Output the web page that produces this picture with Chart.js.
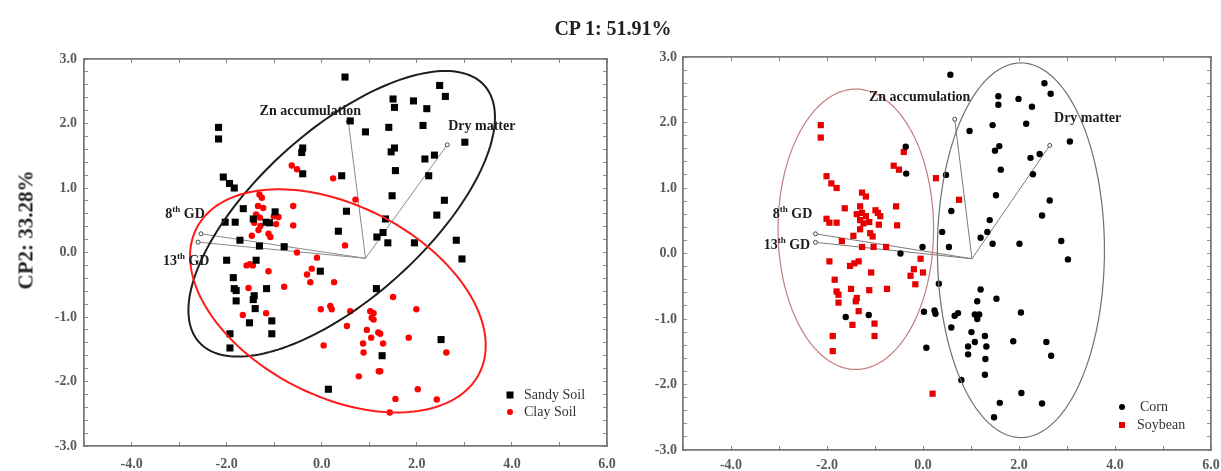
<!DOCTYPE html>
<html>
<head>
<meta charset="utf-8">
<script src="https://cdn.jsdelivr.net/npm/chart.js@4/dist/chart.umd.min.js"></script>
<style>
  body { margin: 0; background: #fff; }
  #wrap { position: relative; width: 1221px; height: 471px; overflow: hidden; }
  canvas { position: absolute; top: 0; }
  #leftChart { left: 0; }
  #rightChart { left: 620px; }
  .lbl { position: absolute; font-family: "Liberation Serif", serif; font-weight: bold; color: #222; white-space: nowrap; }
  #title { left: 613px; top: 28px; font-size: 20px; transform: translate(-50%, -50%); }
  #ylab { left: 26px; top: 230px; font-size: 21px; transform: translate(-50%, -50%) rotate(-90deg); }
</style>
</head>
<body>
<div id="wrap">
  <canvas id="leftChart" width="620" height="471"></canvas>
  <canvas id="rightChart" width="601" height="471"></canvas>
  <div class="lbl" id="title">CP 1: 51.91%</div>
  <div class="lbl" id="ylab">CP2: 33.28%</div>
</div>
<script>
// ---- tick labels
const xTickLabels = ['-4.0', '-2.0', '0.0', '2.0', '4.0', '6.0'];
const yTickLabels = ['-3.0', '-2.0', '-1.0', '0.0', '1.0', '2.0', '3.0'];

// ---- left panel: soil type (x = CP1, y = CP2)
const sandySoil = [
  [0.49,2.72],[0.60,2.04],[0.92,1.87],[-2.17,1.94],[-2.17,1.76],[-0.40,1.62],[-0.42,1.55],[-0.40,1.22],
  [0.42,1.19],[-2.07,1.17],[-1.94,1.07],[-1.84,1.00],[-1.65,0.68],[0.52,0.64],[-0.98,0.63],[-2.03,0.47],
  [-1.82,0.47],[-1.44,0.52],[-1.17,0.47],[-1.10,0.46],[0.35,0.33],[1.16,0.24],[-1.72,0.19],[-1.31,0.10],
  [-0.79,0.09],[-2.00,-0.12],[-1.38,-0.12],[-0.03,-0.29],[-1.86,-0.39],[-1.84,-0.56],[-1.80,-0.59],[-1.80,-0.75],
  [-1.42,-0.67],[-1.44,-0.73],[-1.16,-0.56],[-1.40,-0.87],[-1.52,-1.09],[-1.05,-1.06],[-1.05,-1.26],[-1.93,-1.26],
  [-1.93,-1.48],[0.14,-2.12],[1.15,-0.56],[1.27,-1.60],[2.48,2.59],[2.60,2.42],[1.50,2.38],[1.53,2.25],
  [1.93,2.35],[2.21,2.23],[1.41,1.94],[2.13,1.97],[3.01,1.71],[1.46,1.56],[1.53,1.62],[2.17,1.45],
  [2.37,1.51],[1.55,1.27],[2.25,1.19],[1.48,0.88],[2.58,0.81],[2.42,0.58],[1.34,0.52],[1.29,0.31],
  [1.39,0.15],[1.95,0.15],[2.83,0.19],[2.95,-0.10],[2.51,-1.35]
];
const claySoil = [
  [-0.63,1.35],[-0.52,1.29],[0.24,1.15],[0.71,0.82],[-1.31,0.90],[-1.26,0.85],[-1.34,0.72],[-1.23,0.69],
  [-1.38,0.59],[-1.37,0.56],[-1.30,0.54],[-1.42,0.46],[-1.01,0.56],[-0.91,0.55],[-0.96,0.44],[-0.60,0.72],
  [-0.60,0.42],[-1.29,0.41],[-1.33,0.35],[-1.47,0.26],[-1.12,0.29],[-1.08,0.24],[0.49,0.11],[-0.52,0.00],
  [-0.10,-0.08],[-1.58,-0.20],[-1.51,-0.18],[-1.45,-0.20],[-1.12,-0.29],[-0.21,-0.25],[-0.31,-0.34],[-0.24,-0.46],
  [0.26,-0.46],[-1.54,-0.55],[-0.79,-0.53],[-0.02,-0.88],[0.18,-0.83],[0.21,-0.88],[-1.66,-0.97],[-1.17,-0.94],
  [0.60,-0.91],[1.02,-0.91],[1.09,-0.94],[1.05,-1.01],[1.09,-1.04],[0.53,-1.14],[0.95,-1.20],[1.04,-1.32],
  [0.87,-1.41],[0.88,-1.55],[0.04,-1.44],[1.20,-1.84],[0.78,-1.92],[1.19,-1.24],[1.50,-0.69],[1.99,-0.88],
  [1.23,-1.26],[1.29,-1.41],[1.83,-1.32],[2.62,-1.55],[1.23,-1.84],[2.02,-2.12],[1.55,-2.27],[2.42,-2.28],
  [1.43,-2.48]
];

// ---- right panel: crop
const corn = [
  [0.57,2.73],[-0.36,1.63],[-0.35,1.22],[0.48,1.20],[0.59,0.65],[0.40,0.33],[0.54,0.10],[-0.01,0.10],
  [-0.47,0.00],[0.33,-0.46],[0.02,-0.89],[0.24,-0.87],[0.26,-0.92],[-1.61,-0.97],[-1.13,-0.94],[0.66,-0.95],
  [0.73,-0.91],[0.59,-1.13],[0.07,-1.44],[0.80,-1.93],[2.53,2.60],[2.66,2.44],[1.57,2.40],[1.57,2.27],
  [1.99,2.36],[2.27,2.24],[1.45,1.96],[2.15,1.98],[0.97,1.87],[3.06,1.71],[1.59,1.64],[1.50,1.57],
  [2.24,1.46],[2.43,1.52],[1.62,1.28],[2.29,1.21],[1.52,0.89],[2.64,0.81],[2.48,0.58],[1.39,0.51],
  [1.34,0.33],[1.20,0.24],[1.45,0.15],[2.01,0.15],[2.88,0.19],[3.02,-0.09],[1.20,-0.55],[1.13,-0.73],
  [1.53,-0.69],[1.08,-0.93],[1.17,-0.93],[1.13,-1.00],[2.04,-0.90],[1.01,-1.20],[1.29,-1.26],[1.08,-1.35],
  [0.94,-1.42],[1.32,-1.42],[0.94,-1.54],[1.30,-1.61],[1.88,-1.34],[2.57,-1.35],[2.67,-1.56],[1.29,-1.85],
  [2.05,-2.13],[1.60,-2.28],[2.48,-2.29],[1.48,-2.50]
];
const soybean = [
  [-2.13,1.96],[-2.13,1.77],[-0.40,1.55],[-0.61,1.34],[-0.50,1.28],[0.27,1.15],[0.75,0.82],[-2.01,1.18],
  [-1.91,1.07],[-1.80,1.00],[-1.27,0.93],[-1.19,0.87],[-1.63,0.69],[-1.31,0.72],[-0.99,0.66],[-0.94,0.62],
  [-0.56,0.72],[-0.54,0.43],[-2.01,0.53],[-1.95,0.47],[-1.80,0.47],[-1.38,0.60],[-1.27,0.62],[-1.19,0.57],
  [-1.31,0.51],[-1.24,0.46],[-1.12,0.48],[-0.92,0.44],[-0.89,0.57],[-1.31,0.37],[-1.45,0.27],[-1.10,0.31],
  [-1.05,0.26],[-1.69,0.19],[-1.27,0.10],[-1.03,0.10],[-0.77,0.10],[-1.95,-0.12],[-1.34,-0.12],[-1.43,-0.15],
  [-1.52,-0.19],[-0.05,-0.08],[-0.19,-0.24],[-0.26,-0.34],[-0.16,-0.47],[0.00,-0.29],[-1.08,-0.29],[-1.84,-0.40],
  [-1.50,-0.54],[-1.80,-0.58],[-1.76,-0.63],[-1.12,-0.56],[-0.75,-0.54],[-1.76,-0.75],[-1.38,-0.68],[-1.40,-0.73],
  [-1.34,-0.88],[-1.47,-1.09],[-1.01,-1.07],[-1.01,-1.26],[-1.88,-1.26],[-1.88,-1.49],[0.20,-2.14]
];

// ---- biplot variable vectors [origin, tip]
const leftVectors = {
  zn:   [[0.92,-0.09],[0.56,2.03]],
  dry:  [[0.92,-0.09],[2.64,1.67]],
  gd8:  [[0.92,-0.09],[-2.54,0.29]],
  gd13: [[0.92,-0.09],[-2.60,0.16]]
};
const rightVectors = {
  zn:   [[1.02,-0.08],[0.66,2.05]],
  dry:  [[1.02,-0.08],[2.64,1.65]],
  gd8:  [[1.02,-0.08],[-2.24,0.30]],
  gd13: [[1.02,-0.08],[-2.24,0.17]]
};

// ---- confidence ellipses: centre + two conjugate semi-axes (data units)
const sandyEllipse   = { c: [0.42, 0.60],  u: [3.00, 1.99], v: [1.18, -0.97] };
const clayEllipse    = { c: [0.34, -0.75], u: [2.97, -1.13], v: [-0.92, -1.31] };
const soybeanEllipse = { c: [-1.40, 0.37], u: [1.62, 0], v: [0, 2.14] };
const cornEllipse    = { c: [2.04, 0.05],  u: [1.74, 0], v: [0, 2.86] };

// ---- variable labels
const leftNotes = [
  { parts: [['Zn accumulation']], at: [-0.24, 2.19], align: 'center' },
  { parts: [['Dry matter']], at: [2.66, 1.95], align: 'left' },
  { parts: [['8'], ['th', 1], [' GD']], at: [-3.29, 0.59], align: 'left' },
  { parts: [['13'], ['th', 1], [' GD']], at: [-3.34, -0.14], align: 'left' }
];
const rightNotes = [
  { parts: [['Zn accumulation']], at: [-0.07, 2.38], align: 'center' },
  { parts: [['Dry matter']], at: [2.73, 2.06], align: 'left' },
  { parts: [['8'], ['th', 1], [' GD']], at: [-3.13, 0.60], align: 'left' },
  { parts: [['13'], ['th', 1], [' GD']], at: [-3.32, 0.12], align: 'left' }
];

const SERIF = '"Liberation Serif", "Times New Roman", serif';

function tickList(min, max, step) {
  const out = [];
  for (let k = 0; min + k * step <= max + 1e-9; k++) out.push({ value: Math.round((min + k * step) * 100) / 100 });
  return out;
}
function fmt(labels) {
  return v => {
    const s = (Math.round(v * 10) / 10).toFixed(1);
    return labels.includes(s) ? s : '';
  };
}

function makeScales(lay) {
  // tick marks point inwards, like the original plot frame
  const grid = { drawOnChartArea: false, tickLength: -4, color: '#8c8c8c', lineWidth: 1 };
  const border = { color: '#7a7a7a', width: 1.8 };
  const font = { family: SERIF, size: 14, weight: 'bold' };
  const noPad = s => { s.paddingLeft = 0; s.paddingRight = 0; s.paddingTop = 0; s.paddingBottom = 0; };
  return {
    x: {
      type: 'linear', position: 'bottom', min: -5, max: 6,
      afterBuildTicks: s => { s.ticks = tickList(-5, 6, 1); },
      ticks: { autoSkip: false, maxRotation: 0, color: '#5a5a5a', font, padding: lay.xPad, callback: fmt(xTickLabels) },
      grid, border,
      afterFit: s => { s.height = lay.xH; noPad(s); }
    },
    xTop: {
      type: 'linear', position: 'top', min: -5, max: 6,
      afterBuildTicks: s => { s.ticks = tickList(-5, 6, 1); },
      ticks: { display: false, autoSkip: false },
      grid, border,
      afterFit: s => { s.height = 5; noPad(s); }
    },
    y: {
      type: 'linear', position: 'left', min: -3, max: 3,
      afterBuildTicks: s => { s.ticks = tickList(-3, 3, 0.2); },
      ticks: { autoSkip: false, color: '#5a5a5a', font, padding: lay.yPad, callback: fmt(yTickLabels) },
      grid, border,
      afterFit: s => { s.width = 50; noPad(s); }
    },
    yRight: {
      type: 'linear', position: 'right', min: -3, max: 3,
      afterBuildTicks: s => { s.ticks = tickList(-3, 3, 0.2); },
      ticks: { display: false, autoSkip: false },
      grid, border,
      afterFit: s => { s.width = 5; noPad(s); }
    }
  };
}

function pts(arr) { return arr.map(p => ({ x: p[0], y: p[1] })); }

function vectorSets(vecs, color) {
  return Object.values(vecs).map(v => ({
    data: pts(v), showLine: true, borderColor: color, borderWidth: 1,
    pointRadius: [0, 2], pointBackgroundColor: '#fff', pointBorderColor: '#444', pointBorderWidth: 1
  }));
}

function drawEllipse(chart, e, color, width) {
  const sx = chart.scales.x, sy = chart.scales.y, ctx = chart.ctx;
  ctx.save();
  ctx.beginPath();
  for (let i = 0; i <= 180; i++) {
    const t = i / 180 * Math.PI * 2;
    const px = sx.getPixelForValue(e.c[0] + e.u[0] * Math.cos(t) + e.v[0] * Math.sin(t));
    const py = sy.getPixelForValue(e.c[1] + e.u[1] * Math.cos(t) + e.v[1] * Math.sin(t));
    i ? ctx.lineTo(px, py) : ctx.moveTo(px, py);
  }
  ctx.closePath();
  ctx.strokeStyle = color;
  ctx.lineWidth = width;
  ctx.stroke();
  ctx.restore();
}

function drawNote(chart, note) {
  const ctx = chart.ctx;
  const px = chart.scales.x.getPixelForValue(note.at[0]);
  const py = chart.scales.y.getPixelForValue(note.at[1]);
  const big = 'bold 14px ' + SERIF, small = 'bold 9px ' + SERIF;
  ctx.save();
  let w = 0;
  note.parts.forEach(p => { ctx.font = p[1] ? small : big; w += ctx.measureText(p[0]).width; });
  let cx = note.align === 'center' ? px - w / 2 : px;
  ctx.textAlign = 'left';
  ctx.textBaseline = 'middle';
  ctx.fillStyle = '#1c1c1c';
  note.parts.forEach(p => {
    ctx.font = p[1] ? small : big;
    ctx.fillText(p[0], cx, p[1] ? py - 5 : py);
    cx += ctx.measureText(p[0]).width;
  });
  ctx.restore();
}

function drawLegend(chart, items, dx, dy) {
  const ctx = chart.ctx, a = chart.chartArea;
  ctx.save();
  ctx.font = '14px ' + SERIF;
  ctx.textBaseline = 'middle';
  ctx.textAlign = 'left';
  items.forEach((it, i) => {
    const mx = a.right - dx, my = a.bottom - dy + i * it.gap;
    ctx.fillStyle = it.color;
    ctx.beginPath();
    if (it.shape === 'rect') ctx.rect(mx - it.size / 2, my - it.size / 2, it.size, it.size);
    else ctx.arc(mx, my, it.size / 2, 0, Math.PI * 2);
    ctx.fill();
    ctx.fillStyle = '#333';
    ctx.fillText(it.text, mx + it.tx, my);
  });
  ctx.restore();
}

// ---------------- left chart
new Chart(document.getElementById('leftChart'), {
  type: 'scatter',
  data: {
    datasets: [
      { label: 'Sandy Soil', data: pts(sandySoil), pointStyle: 'rect', pointRadius: 5, backgroundColor: '#000', borderWidth: 0 },
      { label: 'Clay Soil', data: pts(claySoil), pointStyle: 'circle', pointRadius: 3.2, backgroundColor: '#ff0000', borderWidth: 0 },
      ...vectorSets(leftVectors, '#8a8a8a')
    ]
  },
  options: {
    responsive: false, animation: false,
    layout: { padding: { left: 34, right: 8, top: 54, bottom: 0 } },
    plugins: { legend: { display: false }, tooltip: { enabled: false } },
    scales: makeScales({ xH: 25, xPad: 14, yPad: 11 })
  },
  plugins: [{
    id: 'leftDecor',
    afterDatasetsDraw(chart) {
      drawEllipse(chart, sandyEllipse, '#1e1e1e', 2);
      drawEllipse(chart, clayEllipse, '#ff1a1a', 2);
      leftNotes.forEach(n => drawNote(chart, n));
      drawLegend(chart, [
        { text: 'Sandy Soil', color: '#000', shape: 'rect', size: 7, tx: 14, gap: 17 },
        { text: 'Clay Soil', color: '#ff0000', shape: 'circle', size: 6, tx: 14, gap: 17 }
      ], 97, 51);
    }
  }]
});

// ---------------- right chart
new Chart(document.getElementById('rightChart'), {
  type: 'scatter',
  data: {
    datasets: [
      { label: 'Corn', data: pts(corn), pointStyle: 'circle', pointRadius: 3.2, backgroundColor: '#000', borderWidth: 0 },
      { label: 'Soybean', data: pts(soybean), pointStyle: 'rect', pointRadius: 4.4, backgroundColor: '#e60000', borderWidth: 0 },
      ...vectorSets(rightVectors, '#7a7a7a')
    ]
  },
  options: {
    responsive: false, animation: false,
    layout: { padding: { left: 13, right: 5, top: 52, bottom: 0 } },
    plugins: { legend: { display: false }, tooltip: { enabled: false } },
    scales: makeScales({ xH: 21, xPad: 11, yPad: 10 })
  },
  plugins: [{
    id: 'rightDecor',
    afterDatasetsDraw(chart) {
      drawEllipse(chart, soybeanEllipse, '#c47e7e', 1.2);
      drawEllipse(chart, cornEllipse, '#707070', 1.2);
      rightNotes.forEach(n => drawNote(chart, n));
      drawLegend(chart, [
        { text: 'Corn', color: '#000', shape: 'circle', size: 6, tx: 18, gap: 18 },
        { text: 'Soybean', color: '#e60000', shape: 'rect', size: 6, tx: 15, gap: 18 }
      ], 89, 43);
    }
  }]
});
</script>
</body>
</html>
